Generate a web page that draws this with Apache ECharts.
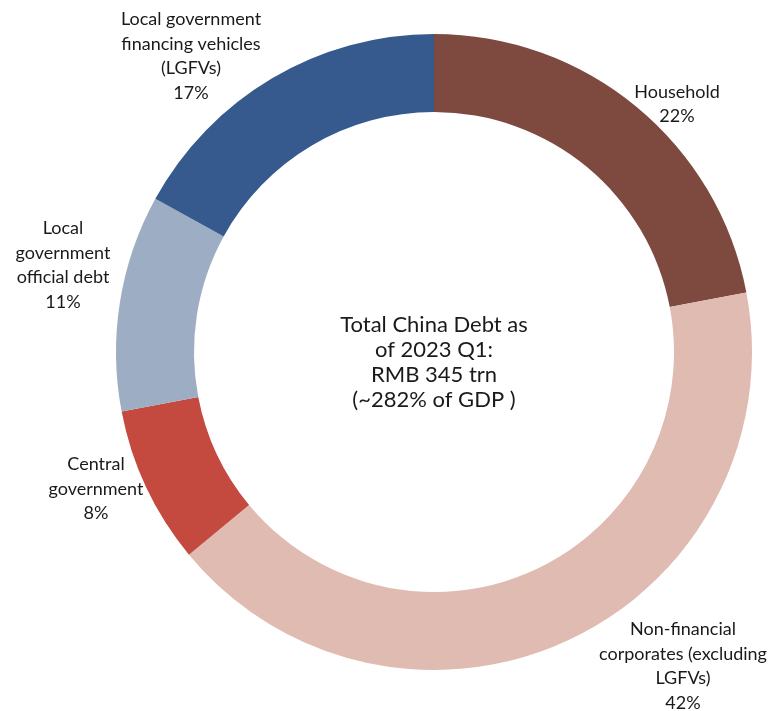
<!DOCTYPE html>
<html>
<head>
<meta charset="utf-8">
<script src="https://cdn.jsdelivr.net/npm/echarts@6/dist/echarts.min.js"></script>
<style>
  html, body { margin: 0; padding: 0; background: #ffffff; }
  #chart { width: 769px; height: 711px; }
</style>
</head>
<body>
<div id="chart"></div>
<script>
// Debt segments, clockwise from 12 o'clock
const categories = [
  'Household',
  'Non-financial\ncorporates (excluding\nLGFVs)',
  'Central\ngovernment',
  'Local\ngovernment\nofficial debt',
  'Local government\nfinancing vehicles\n(LGFVs)'
];
const shares = [22, 42, 8, 11, 17];   // % of total debt
const centerLines = ['Total China Debt as', 'of 2023 Q1:', 'RMB 345 trn', '(~282% of GDP )'];

// Layout and styling
const colors = ['#7E4A40', '#E0BBB1', '#C44A40', '#9DAEC4', '#365A8E'];
const labelAnchors = [[677, 104], [683, 666], [96, 489], [63, 265], [191, 56]];
const FONT = 'Lato, "Open Sans", sans-serif';

const chart = echarts.init(document.getElementById('chart'));
chart.setOption({
  animation: false,
  series: [{
    type: 'pie',
    center: [434, 352],
    radius: [240, 318],
    startAngle: 90,
    clockwise: true,
    silent: true,
    data: categories.map((name, i) => ({
      name: name,
      value: shares[i],
      itemStyle: { color: colors[i] }
    })),
    label: {
      show: true,
      position: 'inside',
      formatter: p => p.name + '\n' + p.value + '%',
      fontFamily: FONT,
      fontSize: 18,
      lineHeight: 24.5,
      color: '#1a1a1a',
      align: 'center'
    },
    labelLine: { show: false },
    labelLayout: p => ({
      x: labelAnchors[p.dataIndex][0],
      y: labelAnchors[p.dataIndex][1],
      align: 'center',
      verticalAlign: 'middle'
    })
  }],
  graphic: [{
    type: 'text',
    x: 434,
    y: 362,
    style: {
      text: centerLines.join('\n'),
      fontFamily: FONT,
      fontSize: 22,
      lineHeight: 25,
      fill: '#1a1a1a',
      align: 'center',
      verticalAlign: 'middle'
    }
  }]
});
</script>
</body>
</html>
